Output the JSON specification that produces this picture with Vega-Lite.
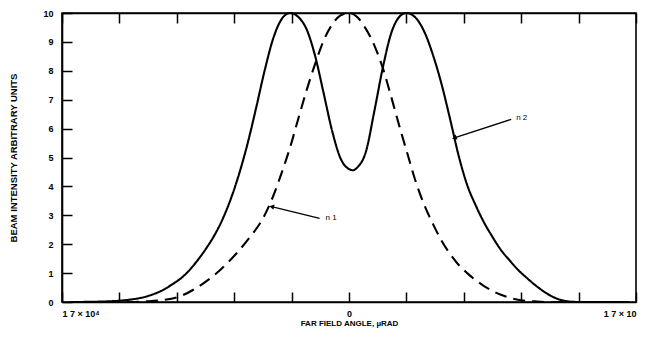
{
  "$schema": "https://vega.github.io/schema/vega-lite/v6.json",
  "width": 574,
  "height": 289,
  "autosize": {"type": "none"},
  "padding": {"left": 62, "top": 13, "right": 10, "bottom": 35},
  "background": "white",
  "config": {
    "view": {"stroke": "black", "strokeWidth": 1.6},
    "font": "Liberation Sans",
    "axis": {"domainColor": "black", "tickColor": "black", "labelColor": "black", "titleColor": "black", "grid": false}
  },
  "resolve": {"axis": {"x": "independent", "y": "independent"}},
  "datasets": {
    "curves": [
      {"angle": -16230, "intensity": 0, "series": "n = 2"},
      {"angle": -15000, "intensity": 0.01, "series": "n = 2"},
      {"angle": -14000, "intensity": 0.03, "series": "n = 2"},
      {"angle": -13000, "intensity": 0.08, "series": "n = 2"},
      {"angle": -12000, "intensity": 0.19, "series": "n = 2"},
      {"angle": -11500, "intensity": 0.29, "series": "n = 2"},
      {"angle": -11000, "intensity": 0.42, "series": "n = 2"},
      {"angle": -10500, "intensity": 0.6, "series": "n = 2"},
      {"angle": -10000, "intensity": 0.8, "series": "n = 2"},
      {"angle": -9500, "intensity": 1.07, "series": "n = 2"},
      {"angle": -9000, "intensity": 1.42, "series": "n = 2"},
      {"angle": -8500, "intensity": 1.82, "series": "n = 2"},
      {"angle": -8000, "intensity": 2.28, "series": "n = 2"},
      {"angle": -7500, "intensity": 2.85, "series": "n = 2"},
      {"angle": -7000, "intensity": 3.57, "series": "n = 2"},
      {"angle": -6500, "intensity": 4.45, "series": "n = 2"},
      {"angle": -6000, "intensity": 5.5, "series": "n = 2"},
      {"angle": -5500, "intensity": 6.72, "series": "n = 2"},
      {"angle": -5000, "intensity": 8.0, "series": "n = 2"},
      {"angle": -4500, "intensity": 9.1, "series": "n = 2"},
      {"angle": -4000, "intensity": 9.78, "series": "n = 2"},
      {"angle": -3500, "intensity": 10, "series": "n = 2"},
      {"angle": -3000, "intensity": 9.86, "series": "n = 2"},
      {"angle": -2500, "intensity": 9.42, "series": "n = 2"},
      {"angle": -2000, "intensity": 8.5, "series": "n = 2"},
      {"angle": -1500, "intensity": 7.22, "series": "n = 2"},
      {"angle": -1000, "intensity": 5.92, "series": "n = 2"},
      {"angle": -500, "intensity": 4.97, "series": "n = 2"},
      {"angle": 0, "intensity": 4.6, "series": "n = 2"},
      {"angle": 250, "intensity": 4.56, "series": "n = 2"},
      {"angle": 500, "intensity": 4.66, "series": "n = 2"},
      {"angle": 1000, "intensity": 5.2, "series": "n = 2"},
      {"angle": 1500, "intensity": 6.6, "series": "n = 2"},
      {"angle": 2000, "intensity": 8.1, "series": "n = 2"},
      {"angle": 2500, "intensity": 9.3, "series": "n = 2"},
      {"angle": 3000, "intensity": 9.88, "series": "n = 2"},
      {"angle": 3400, "intensity": 10, "series": "n = 2"},
      {"angle": 4000, "intensity": 9.8, "series": "n = 2"},
      {"angle": 4500, "intensity": 9.3, "series": "n = 2"},
      {"angle": 5000, "intensity": 8.5, "series": "n = 2"},
      {"angle": 5500, "intensity": 7.5, "series": "n = 2"},
      {"angle": 6000, "intensity": 6.3, "series": "n = 2"},
      {"angle": 6500, "intensity": 5.05, "series": "n = 2"},
      {"angle": 7000, "intensity": 4.05, "series": "n = 2"},
      {"angle": 7500, "intensity": 3.35, "series": "n = 2"},
      {"angle": 8000, "intensity": 2.75, "series": "n = 2"},
      {"angle": 8500, "intensity": 2.25, "series": "n = 2"},
      {"angle": 9000, "intensity": 1.8, "series": "n = 2"},
      {"angle": 9500, "intensity": 1.45, "series": "n = 2"},
      {"angle": 10000, "intensity": 1.12, "series": "n = 2"},
      {"angle": 10500, "intensity": 0.85, "series": "n = 2"},
      {"angle": 11000, "intensity": 0.6, "series": "n = 2"},
      {"angle": 11500, "intensity": 0.38, "series": "n = 2"},
      {"angle": 12000, "intensity": 0.2, "series": "n = 2"},
      {"angle": 12500, "intensity": 0.08, "series": "n = 2"},
      {"angle": 13000, "intensity": 0.02, "series": "n = 2"},
      {"angle": 13630, "intensity": 0, "series": "n = 2"},
      {"angle": 16590, "intensity": 0, "series": "n = 2"},
      {"angle": -16530, "intensity": 0, "series": "n = 1"},
      {"angle": -13000, "intensity": 0, "series": "n = 1"},
      {"angle": -12000, "intensity": 0.02, "series": "n = 1"},
      {"angle": -11000, "intensity": 0.07, "series": "n = 1"},
      {"angle": -10000, "intensity": 0.2, "series": "n = 1"},
      {"angle": -9000, "intensity": 0.5, "series": "n = 1"},
      {"angle": -8000, "intensity": 0.92, "series": "n = 1"},
      {"angle": -7000, "intensity": 1.47, "series": "n = 1"},
      {"angle": -6000, "intensity": 2.15, "series": "n = 1"},
      {"angle": -5000, "intensity": 3.0, "series": "n = 1"},
      {"angle": -4500, "intensity": 3.65, "series": "n = 1"},
      {"angle": -4000, "intensity": 4.45, "series": "n = 1"},
      {"angle": -3500, "intensity": 5.33, "series": "n = 1"},
      {"angle": -3000, "intensity": 6.35, "series": "n = 1"},
      {"angle": -2500, "intensity": 7.35, "series": "n = 1"},
      {"angle": -2000, "intensity": 8.25, "series": "n = 1"},
      {"angle": -1500, "intensity": 9.05, "series": "n = 1"},
      {"angle": -1000, "intensity": 9.6, "series": "n = 1"},
      {"angle": -500, "intensity": 9.92, "series": "n = 1"},
      {"angle": 0, "intensity": 10, "series": "n = 1"},
      {"angle": 500, "intensity": 9.85, "series": "n = 1"},
      {"angle": 1000, "intensity": 9.45, "series": "n = 1"},
      {"angle": 1500, "intensity": 8.88, "series": "n = 1"},
      {"angle": 2000, "intensity": 8.1, "series": "n = 1"},
      {"angle": 2500, "intensity": 7.1, "series": "n = 1"},
      {"angle": 3000, "intensity": 6.05, "series": "n = 1"},
      {"angle": 3500, "intensity": 5.05, "series": "n = 1"},
      {"angle": 4000, "intensity": 4.08, "series": "n = 1"},
      {"angle": 4500, "intensity": 3.3, "series": "n = 1"},
      {"angle": 5000, "intensity": 2.67, "series": "n = 1"},
      {"angle": 5500, "intensity": 2.1, "series": "n = 1"},
      {"angle": 6000, "intensity": 1.65, "series": "n = 1"},
      {"angle": 6500, "intensity": 1.28, "series": "n = 1"},
      {"angle": 7000, "intensity": 1.0, "series": "n = 1"},
      {"angle": 8000, "intensity": 0.55, "series": "n = 1"},
      {"angle": 9000, "intensity": 0.25, "series": "n = 1"},
      {"angle": 10000, "intensity": 0.08, "series": "n = 1"},
      {"angle": 11000, "intensity": 0.02, "series": "n = 1"},
      {"angle": 11560, "intensity": 0, "series": "n = 1"},
      {"angle": 16590, "intensity": 0, "series": "n = 1"}
    ],
    "arrows": [
      {"series": "n = 1", "label": "n   1", "tail_angle": -1740, "tail_intensity": 2.89, "tip_angle": -4580, "tip_intensity": 3.3, "label_angle": -1390, "label_intensity": 2.89},
      {"series": "n = 2", "label": "n   2", "tail_angle": 9610, "tail_intensity": 6.32, "tip_angle": 6240, "tip_intensity": 5.68, "label_angle": 9900, "label_intensity": 6.36}
    ]
  },
  "layer": [
    {
      "data": {"name": "curves"},
      "mark": {"type": "line", "interpolate": "monotone", "color": "black", "strokeWidth": 2.1},
      "encoding": {
        "x": {"field": "angle", "type": "quantitative",
              "scale": {"domain": [-17000, 17000], "nice": false, "zero": false},
              "axis": {
                "orient": "bottom",
                "values": [-17000, -13600, -10200, -6800, -3400, 0, 3400, 6800, 10200, 13600, 17000],
                "labelExpr": "datum.value == -17000 ? '1 7 × 10⁴' : datum.value == 0 ? '0' : datum.value == 17000 ? '1 7 × 10' : ''",
                "labelFlush": true,
                "labelOverlap": false,
                "tickSize": -10,
                "tickWidth": 1.5,
                "domainWidth": 1.6,
                "labelPadding": 17,
                "labelFontSize": 9,
                "labelFontWeight": "bold",
                "title": "FAR FIELD ANGLE, µRAD",
                "titleFontSize": 8,
                "titleFontWeight": "bold",
                "titlePadding": 1
              }},
        "y": {"field": "intensity", "type": "quantitative",
              "scale": {"domain": [0, 10], "nice": false},
              "axis": {
                "values": [0, 1, 2, 3, 4, 5, 6, 7, 8, 9, 10],
                "labelOverlap": false,
                "tickSize": -10,
                "tickWidth": 1.5,
                "domainWidth": 1.6,
                "labelPadding": 19,
                "labelFontSize": 9,
                "labelFontWeight": "bold",
                "title": "BEAM INTENSITY  ARBITRARY UNITS",
                "titleFontSize": 9.5,
                "titleFontWeight": "bold",
                "titlePadding": 24
              }},
        "strokeDash": {"field": "series", "type": "nominal",
                       "scale": {"domain": ["n = 1", "n = 2"], "range": [[12, 7], [1, 0]]},
                       "legend": null},
        "detail": {"field": "series"}
      }
    },
    {
      "data": {"name": "curves"},
      "mark": {"type": "rule", "opacity": 0},
      "encoding": {
        "x": {"field": "angle", "type": "quantitative",
              "axis": {
                "orient": "top",
                "values": [-17000, -13600, -10200, -6800, -3400, 0, 3400, 6800, 10200, 13600, 17000],
                "labels": false,
                "tickSize": -10,
                "tickWidth": 1.5,
                "domainWidth": 1.6,
                "title": null
              }}
      }
    },
    {
      "data": {"name": "arrows"},
      "mark": {"type": "rule", "color": "black", "strokeWidth": 1.3},
      "encoding": {
        "x": {"field": "tail_angle", "type": "quantitative", "axis": null},
        "y": {"field": "tail_intensity", "type": "quantitative", "axis": null},
        "x2": {"field": "tip_angle"},
        "y2": {"field": "tip_intensity"}
      }
    },
    {
      "data": {"name": "arrows"},
      "transform": [{"filter": "datum.series == 'n = 1'"}],
      "mark": {"type": "point", "shape": "triangle-left", "filled": true, "color": "black", "size": 30, "angle": 12, "opacity": 1},
      "encoding": {
        "x": {"field": "tip_angle", "type": "quantitative", "axis": null},
        "y": {"field": "tip_intensity", "type": "quantitative", "axis": null}
      }
    },
    {
      "data": {"name": "arrows"},
      "transform": [{"filter": "datum.series == 'n = 2'"}],
      "mark": {"type": "point", "shape": "triangle-left", "filled": true, "color": "black", "size": 30, "angle": -20, "opacity": 1},
      "encoding": {
        "x": {"field": "tip_angle", "type": "quantitative", "axis": null},
        "y": {"field": "tip_intensity", "type": "quantitative", "axis": null}
      }
    },
    {
      "data": {"name": "arrows"},
      "mark": {"type": "text", "align": "left", "baseline": "middle", "fontSize": 8, "color": "black", "font": "Liberation Sans"},
      "encoding": {
        "x": {"field": "label_angle", "type": "quantitative", "axis": null},
        "y": {"field": "label_intensity", "type": "quantitative", "axis": null},
        "text": {"field": "label"}
      }
    }
  ]
}
